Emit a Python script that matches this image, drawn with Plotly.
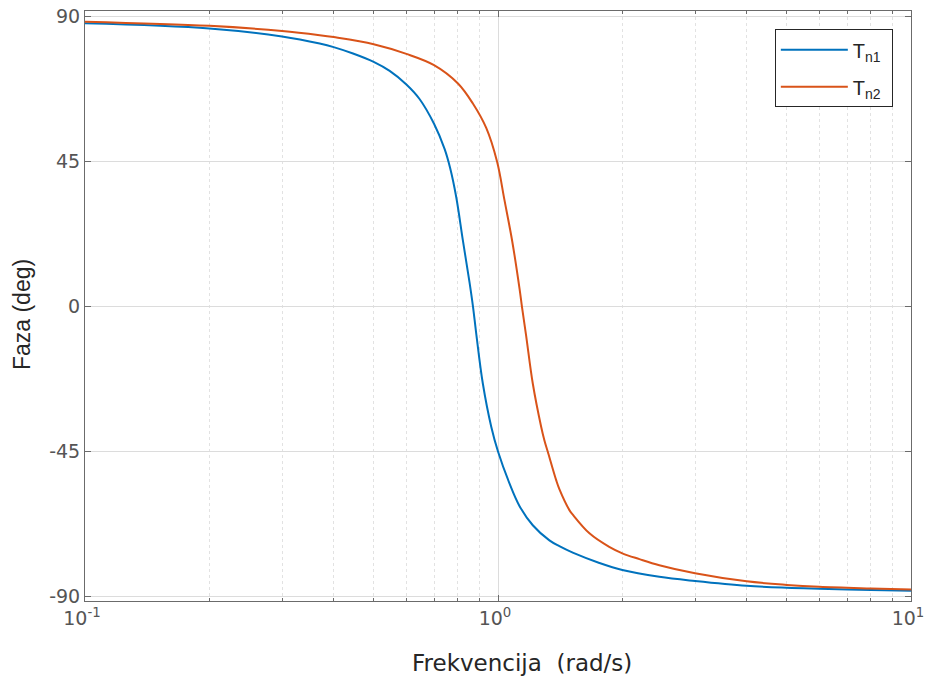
import plotly.graph_objects as go

# Frequency (rad/s) and phase (deg)
w_n1 = [0.1, 0.2, 0.3, 0.37, 0.4, 0.4456, 0.5, 0.5466, 0.6, 0.6457, 0.7, 0.7424, 0.766,
        0.7924, 0.822, 0.8534, 0.87, 0.8857, 0.9189, 0.963, 1.0, 1.066, 1.127, 1.214,
        1.332, 1.408, 1.517, 1.76, 2.0, 2.458, 3.0, 4.0, 5.0, 6.0, 8.0, 10.0]
ph_n1 = [88.0, 86.4, 83.9, 81.7, 80.6, 78.6, 76.0, 73.2, 69.0, 64.5, 56.8, 49.0, 43.0,
         34.0, 20.7, 7.5, 0.0, -8.3, -23.8, -37.2, -44.9, -54.8, -61.8, -67.8,
         -72.5, -74.3, -76.3, -79.5, -81.7, -83.8, -85.1, -86.6, -87.2, -87.5, -87.9, -88.1]

w_n2 = [0.1, 0.2, 0.3, 0.37, 0.4, 0.5, 0.6, 0.7, 0.8, 0.8693, 0.9365, 0.995, 1.0368,
        1.083, 1.128, 1.143, 1.17, 1.214, 1.272, 1.295, 1.32, 1.383, 1.408, 1.489, 1.517,
        1.665, 1.859, 2.0, 2.2, 2.458, 3.0, 4.0, 5.0, 6.0, 8.0, 10.0]
ph_n2 = [88.5, 87.2, 85.6, 84.3, 83.7, 81.5, 78.5, 75.0, 69.3, 63.1, 55.5, 45.0, 33.1,
         20.2, 5.5, 0.0, -9.0, -23.8, -37.2, -41.4, -45.0, -53.8, -56.6, -63.1, -64.5,
         -70.3, -74.5, -76.5, -78.3, -80.2, -82.7, -85.2, -86.3, -86.9, -87.4, -87.7]

names = ["T<sub>n1</sub>\u00a0", "T<sub>n2</sub>\u00a0"]
colors = ["#0072BD", "#D95319"]

x_title = "Frekvencija  (rad/s)"
y_title = "Faza (deg)"
x_tickvals = [0.1, 1, 10]
x_ticktext = ["10<sup>-1</sup>", "10<sup>0</sup>", "10<sup>1</sup>"]
y_tickvals = [-90, -45, 0, 45, 90]
y_ticktext = ["-90", "-45", "0", "45", "90"]
minor_vals = [k * 10 ** e for e in (-1, 0) for k in range(2, 10)]

fig = go.Figure()
for i, (w, ph, nm, c) in enumerate(zip([w_n1, w_n2], [ph_n1, ph_n2], names, colors)):
    fig.add_trace(go.Scatter(x=w, y=ph, mode="lines", name=nm, legendgroup=f"g{i}",
                             line=dict(color=c, width=2, shape="spline", smoothing=1.0)))

axis_col = "#6b6b6b"
tick_font = dict(family="DejaVu Sans", size=19, color="#555555")
fig.update_xaxes(
    type="log", range=[-1, 1], automargin=False, ticklabeloverflow="allow",
    ticklabelshift=-3,
    tickvals=x_tickvals, ticktext=x_ticktext,
    ticks="inside", ticklen=6, tickcolor=axis_col,
    showline=True, linecolor=axis_col, linewidth=1, mirror="ticks",
    showgrid=True, gridcolor="#dcdcdc", gridwidth=1,
    minor=dict(tickvals=minor_vals, ticks="inside", ticklen=3, tickcolor=axis_col,
               showgrid=True, gridcolor="#e2e2e2", griddash="dot", gridwidth=1),
    tickfont=tick_font,
    zeroline=False,
)
fig.update_yaxes(
    range=[-91.3, 91.8], automargin=False, ticklabeloverflow="allow",
    tickvals=y_tickvals, ticktext=y_ticktext,
    ticks="inside", ticklen=6, tickcolor=axis_col,
    showline=True, linecolor=axis_col, linewidth=1, mirror="ticks",
    showgrid=True, gridcolor="#dcdcdc", gridwidth=1,
    tickfont=tick_font,
    zeroline=False,
)

fig.add_annotation(text=x_title, xref="paper", yref="paper", x=0.529, y=-0.105,
                   xanchor="center", yanchor="middle", showarrow=False,
                   font=dict(family="DejaVu Sans", size=23, color="#262626"))
fig.add_annotation(text=y_title, xref="paper", yref="paper", x=-0.076, y=0.485,
                   xanchor="center", yanchor="middle", showarrow=False, textangle=-90,
                   font=dict(family="Liberation Sans, Arial", size=23, color="#262626"))

fig.update_layout(
    width=929, height=681,
    margin=dict(l=85, r=18, t=11, b=80),
    paper_bgcolor="white", plot_bgcolor="white",
    showlegend=True,
    legend=dict(x=0.978, y=0.969, xanchor="right", yanchor="top",
                bgcolor="white", bordercolor="#262626", borderwidth=1,
                font=dict(family="Liberation Sans, Arial", size=20, color="#262626"),
                traceorder="grouped", tracegroupgap=8, itemwidth=67),
)

# remove the page's default body margin so the figure sits at the window's corner
fig.write_html("out.html", config={"displayModeBar": False},
               post_script="document.body.style.margin='0';")
